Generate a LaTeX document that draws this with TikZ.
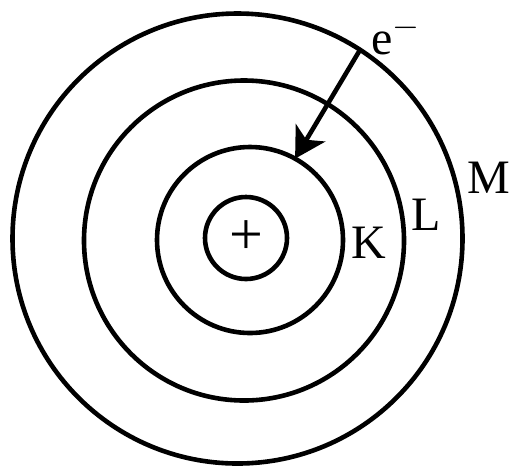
\documentclass[tikz,border=0pt]{standalone}
\usepackage{fontspec}
\setmainfont{Liberation Serif}
\usetikzlibrary{arrows.meta}
\tikzset{
    shell/.style={
        circle,
        draw,
        line width=2.3pt,
        inner sep=0pt,
        outer sep=0pt
    },
    shellLabel/.style={font=\fontsize{24}{28}\selectfont, inner sep=0pt},
    jumpArrow/.style={line width=2.3pt, -{Stealth[length=15pt,width=17pt,inset=4pt]}}
}
\begin{document}
\begin{tikzpicture}[x=0.5pt, y=-0.5pt]
    \useasboundingbox (0,0) rectangle (512,467);

    % Nucleus and shells
    \node[shell, minimum size=41pt] (nucleus) at (246,238) {};
    \node[shell, minimum size=93pt] (shellK) at (250,240) {};
    \node[shell, minimum size=160pt] (shellL) at (244,240.5) {};
    \node[shell, minimum size=225pt] (shellM) at (237.5,238.5) {};
    \node[font=\fontsize{30}{34}\selectfont, inner sep=0pt] (plus) at (nucleus.center) {+};

    % Shell names
    \node[shellLabel] (labK) at (369,243) {K};
    \node[shellLabel] (labL) at (426,215) {L};
    \node[shellLabel] (labM) at (489,178) {M};

    % Electron jump
    \node[shellLabel] (elec) at (396,36) {e$^{-}$};
    \draw[jumpArrow] (shellM.57) -- (shellK.61);
\end{tikzpicture}
\end{document}
